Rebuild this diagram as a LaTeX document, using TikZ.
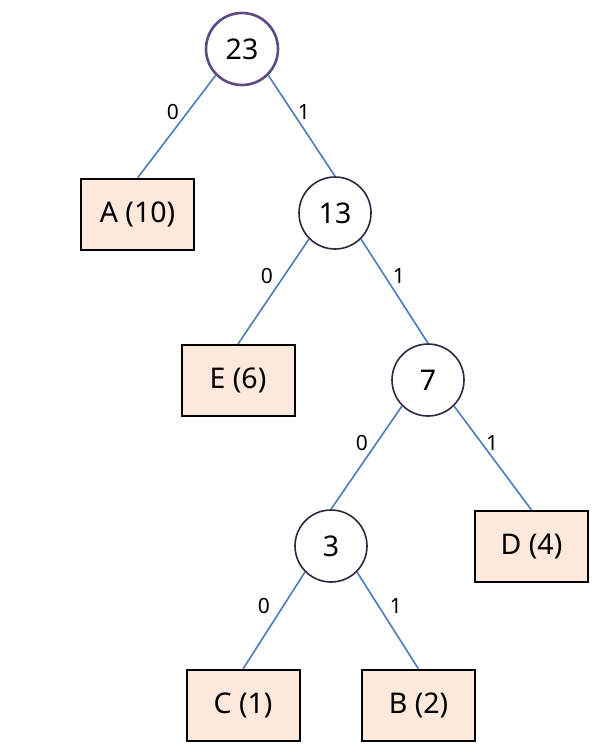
\documentclass[tikz,border=0pt]{standalone}
\usepackage{fontspec}
\setmainfont{Noto Sans}
\definecolor{edgeblue}{HTML}{4A7EBB}
\definecolor{peach}{HTML}{FDE9DB}
\definecolor{rootpurple}{HTML}{5C4A80}
\definecolor{darkpurple}{HTML}{2E2640}
\begin{document}
\begin{tikzpicture}[x=1pt,y=-1pt,
  inner/.style={circle,draw=darkpurple,line width=1.6pt,fill=white,minimum size=72pt,inner sep=0pt,font=\fontsize{28.5}{32}\selectfont},
  leaf/.style={rectangle,draw=black,line width=2pt,fill=peach,minimum width=113pt,minimum height=71pt,inner sep=0pt,font=\fontsize{28.5}{32}\selectfont},
  edge/.style={draw=edgeblue,line width=1.6pt},
  bit/.style={font=\fontsize{21}{24}\selectfont,inner sep=0pt}]
\useasboundingbox (0,0) rectangle (606,755);
\node[inner,draw=rootpurple,line width=2.6pt] (n23) at (242,49) {23};
\node[inner] (n13) at (335,213) {13};
\node[inner] (n7) at (428,380) {7};
\node[inner] (n3) at (331,546) {3};
\node[leaf] (A) at (137.5,214.5) {A (10)};
\node[leaf] (E) at (238,380.5) {E (6)};
\node[leaf] (D) at (531.5,546.5) {D (4)};
\node[leaf] (C) at (243,705.5) {C (1)};
\node[leaf] (B) at (418.5,705.5) {B (2)};
\draw[edge] (n23.south west) -- (A.north);
\draw[edge] (n23.south east) -- (n13.north);
\draw[edge] (n13.south west) -- (E.north);
\draw[edge] (n13.south east) -- (n7.north);
\draw[edge] (n7.south west) -- (n3.north);
\draw[edge] (n7.south east) -- (D.north);
\draw[edge] (n3.south west) -- (C.north);
\draw[edge] (n3.south east) -- (B.north);
\node[bit] (l1) at (173,112) {0};
\node[bit] (l2) at (304,112) {1};
\node[bit] (l3) at (267,276) {0};
\node[bit] (l4) at (399,276) {1};
\node[bit] (l5) at (362,443) {0};
\node[bit] (l6) at (492,443) {1};
\node[bit] (l7) at (264,606) {0};
\node[bit] (l8) at (396,606) {1};
\end{tikzpicture}
\end{document}
